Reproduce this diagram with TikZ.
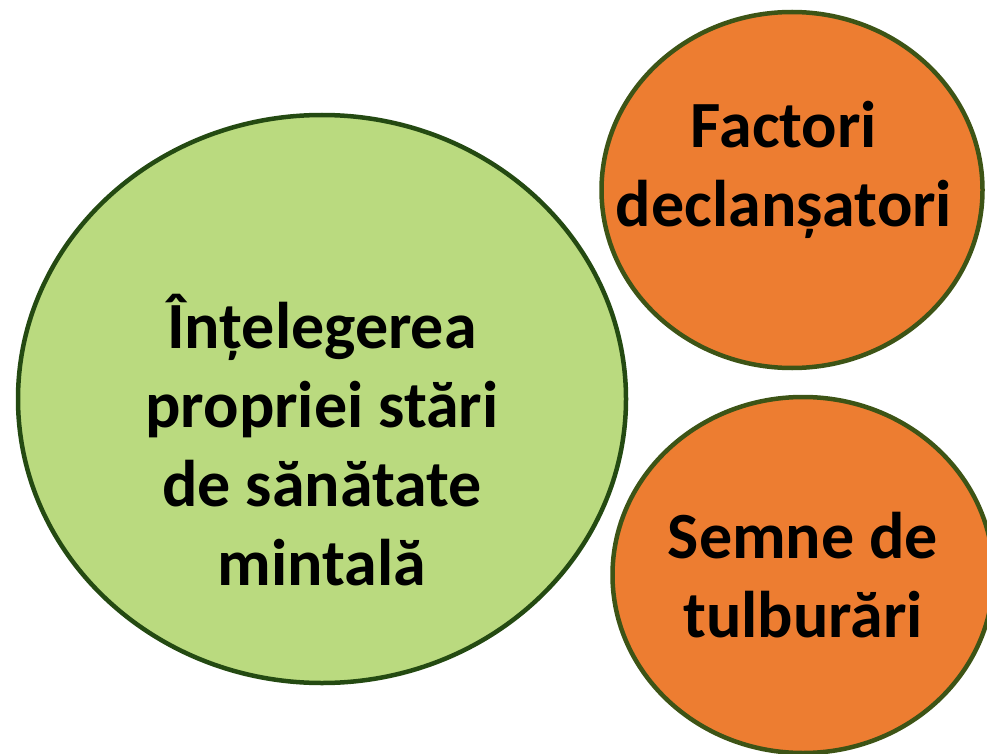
\documentclass[tikz,border=0pt]{standalone}
\usepackage{fontspec}
\setmainfont{Carlito}
\usepackage{tikz}
\usetikzlibrary{shapes.geometric}
\definecolor{leafgreen}{HTML}{BADA7F}
\definecolor{deeporange}{HTML}{ED7D31}
\definecolor{darkrim}{HTML}{244A12}
\definecolor{olivrim}{HTML}{3D5416}
\tikzstyle{bigblob} = [ellipse, 
minimum width=608pt, 
minimum height=568pt, 
inner sep=0pt,
line width=4.5pt,
draw=darkrim, 
fill=leafgreen]
\tikzstyle{smallblob} = [ellipse, 
minimum width=381pt, 
minimum height=356pt, 
inner sep=0pt,
line width=4.5pt,
draw=olivrim, 
fill=deeporange]
\tikzstyle{label} = [align=center, 
inner sep=0pt,
font=\fontsize{66}{79}\selectfont\bfseries]

\begin{document}
\begin{tikzpicture}[x=1pt, y=-1pt]
		\path[use as bounding box, clip] (0,0) rectangle (987,754);
		\node (mind) [bigblob] at (322,399) {};
		\node (trig) [smallblob] at (792,190) {};
		\node (sign) [smallblob] at (803,575) {};
	
		\node (mindtxt) [label, yshift=-41pt] at (mind.center) {Înțelegerea\\ propriei stări\\ de sănătate\\ mintală};
		\node (trigtxt) [label, xshift=-8pt, yshift=20pt] at (trig.center) {Factori\\ declanșatori};
		\node (signtxt) [label] at (sign.center) {Semne de\\ tulburări};
	\end{tikzpicture}
\end{document}
